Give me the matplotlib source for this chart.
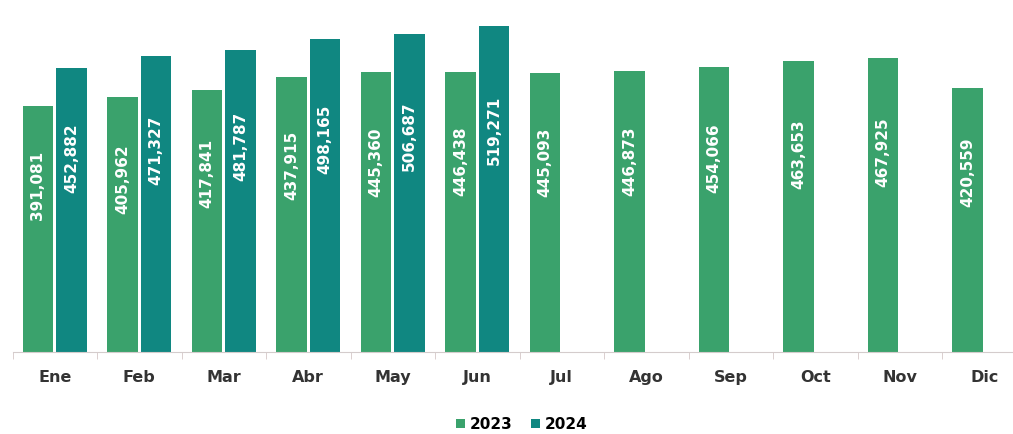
import matplotlib.pyplot as plt
import numpy as np

meses = ["Ene", "Feb", "Mar", "Abr", "May", "Jun",
         "Jul", "Ago", "Sep", "Oct", "Nov", "Dic"]

v2023 = [391081, 405962, 417841, 437915, 445360, 446438,
         445093, 446873, 454066, 463653, 467925, 420559]
v2024 = [452882, 471327, 481787, 498165, 506687, 519271]

c2023 = "#3aa26c"
c2024 = "#108781"

fig = plt.figure(figsize=(10.13, 4.34), dpi=100)
ax = fig.add_axes([12.5 / 1013, 82 / 434, 1014 / 1013, 339 / 434])

x = np.arange(len(meses))
w = 0.36
b1 = ax.bar(x[:len(v2023)] - 0.2, v2023, w, color=c2023, label="2023")
b2 = ax.bar(x[:len(v2024)] + 0.2, v2024, w, color=c2024, label="2024")

# etiquetas dentro de las barras
for bars, vals in ((b1, v2023), (b2, v2024)):
    for b, v in zip(bars, vals):
        ax.text(b.get_x() + b.get_width() / 2, v * 0.68, "{:,}".format(v),
                rotation=90, ha="center", va="center", color="white",
                fontsize=11, fontweight="bold")

ax.set_xlim(-0.5, len(meses) - 0.5)
ax.set_ylim(0, 540000)
ax.set_yticks([])
ax.set_xticks(x)
ax.set_xticklabels(meses, fontsize=11.5, fontweight="bold", color="#333333")
ax.set_xticks(np.arange(-0.5, len(meses), 1), minor=True)
ax.tick_params(axis="x", which="major", length=0, pad=13)
ax.tick_params(axis="x", which="minor", length=5, color="#d4c8c8")

for s in ("left", "top", "right"):
    ax.spines[s].set_visible(False)
ax.spines["bottom"].set_color("#d4cccc")

fig.legend(loc="center", bbox_to_anchor=(0.515, 0.022), ncol=2, frameon=False,
           handlelength=0.6, handleheight=0.6, handletextpad=0.3,
           columnspacing=1.2, prop={"weight": "bold", "size": 11})

fig.savefig("out.png", dpi=100)
